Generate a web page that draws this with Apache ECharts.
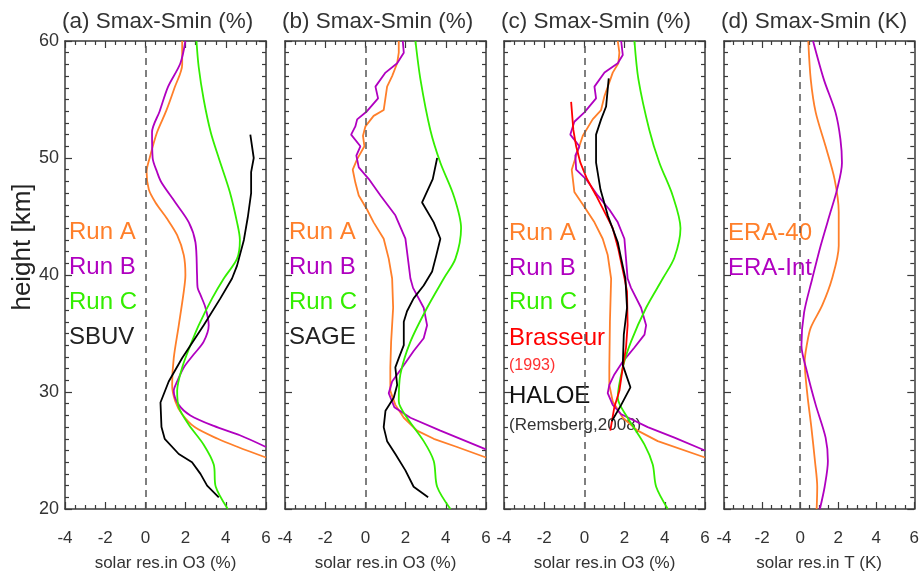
<!DOCTYPE html>
<html><head><meta charset="utf-8">
<script src="https://cdn.jsdelivr.net/npm/echarts@6/dist/echarts.min.js"></script>
<style>html,body{margin:0;padding:0;background:#fff}#c{width:922px;height:577px}</style>
</head><body><div id="c"></div>
<script>
// ---- data: [height (km), value] ----
const a_runA = [[60,1.83],[58,1.83],[56,1.45],[54,1.03],[52.2,0.58],[50,0.21],[48.8,0.06],[47.3,0.17],[46.2,0.5],[44.8,1.08],[43.4,1.58],[41.7,1.91],[40,1.99],[38.6,1.91],[35.7,1.66],[32.9,1.41],[30.6,1.33],[29.2,1.49],[28.1,1.83],[27,2.45],[26,3.6],[25.3,4.6],[24.4,6.0]];
const a_runB = [[60,1.99],[58.1,1.74],[56.1,1.13],[54,0.71],[52.2,0.33],[50,0.36],[48.8,0.58],[47.9,0.8],[46.2,1.49],[44.5,2.16],[42.8,2.49],[40,2.57],[38.9,2.6],[38.3,2.74],[37.2,2.99],[35.7,3.15],[34.3,2.9],[33.2,2.4],[32.1,1.91],[30.9,1.58],[30.1,1.41],[28.9,1.66],[28,2.24],[27.1,3.4],[26.3,4.7],[25.3,6.0]];
const a_runC = [[60,2.54],[57.8,2.65],[55,2.9],[52.2,3.25],[50,3.65],[47.1,4.2],[44.5,4.56],[43,4.7],[41.4,4.56],[39.7,3.9],[38,3.32],[35.7,2.65],[34,2.24],[32.1,1.83],[30.1,1.58],[28.7,1.66],[27.2,2.16],[25.5,2.9],[23.8,3.4],[21.9,3.5],[20,4.1]];
const a_sbuv = [[52,5.22],[50,5.39],[48.8,5.26],[47,5.26],[45,5.1],[43,4.9],[41.7,4.7],[40.8,4.56],[39.7,4.31],[38,3.73],[35.7,2.9],[32.9,1.83],[30.9,1.16],[29.1,0.75],[27,0.8],[26,0.96],[24.7,1.66],[24,2.32],[23,2.74],[22,3.07],[21,3.65]];

const b_runA = [[60,1.66],[59,1.66],[58.1,1.58],[57,1.33],[56.1,1.08],[54.1,0.91],[53.6,0.41],[52.7,0.0],[51.9,-0.12],[51,-0.05],[49.9,-0.41],[49,-0.63],[47.9,-0.5],[46.8,-0.33],[45.6,0.08],[44.5,0.41],[43.1,0.91],[41.4,1.16],[39.7,1.33],[37.2,1.38],[34.3,1.28],[32.1,1.24],[30.1,1.24],[28.9,1.49],[27.8,1.91],[26.7,2.57],[26,3.4],[25.3,4.56],[24.4,6.0]];
const b_runB = [[60,1.86],[59,1.91],[58.1,1.58],[57.3,1.0],[56.1,0.5],[55.1,0.63],[54,0.08],[53.3,-0.41],[52.7,-0.5],[52,-0.71],[51,-0.25],[50.2,-0.45],[49.2,-0.33],[48.2,0.17],[46.8,0.75],[45.1,1.49],[43.1,1.99],[39.7,2.24],[38.9,2.37],[37.2,2.9],[35.7,3.07],[34.6,2.9],[33.5,2.4],[32.1,1.83],[30.9,1.33],[29.9,1.16],[28.7,1.44],[27.8,2.24],[26.7,3.73],[25.1,6.0]];
const b_runC = [[60,2.49],[56.7,2.74],[52.4,3.23],[49.6,3.73],[46.8,4.39],[44,4.76],[41.4,4.48],[39.7,3.9],[37.2,3.07],[34.3,2.24],[31.5,1.74],[29.2,1.66],[27.8,2.07],[25.8,2.9],[24.1,3.4],[21.9,3.57],[20,4.23]];
const b_sage = [[50,3.57],[48.2,3.35],[46.2,2.82],[44.5,3.4],[43.1,3.73],[41.7,3.53],[40.3,3.32],[39.1,2.9],[38,2.4],[36.9,2.07],[36,1.91],[34,1.91],[32.9,1.66],[32.1,1.49],[30.6,1.58],[29.5,1.41],[28.4,1.0],[27,0.91],[25.8,1.08],[24.7,1.49],[23.3,1.99],[21.9,2.4],[21,3.12]];

const c_runA = [[60,1.66],[59,1.74],[58.1,1.69],[57.3,1.41],[55.3,1.0],[54.1,0.83],[53.3,0.41],[51.9,-0.08],[50.2,-0.41],[49,-0.63],[47.1,-0.5],[45.9,-0.03],[44.5,0.5],[43.1,0.91],[41.7,1.16],[39.7,1.33],[36,1.27],[32.1,1.24],[30.6,1.24],[29.2,1.41],[27.8,1.91],[26.7,2.65],[25.8,3.65],[24.4,6.0]];
const c_runB = [[60,1.83],[58.8,1.91],[58.1,1.66],[57.3,1.0],[56.1,0.5],[55.1,0.58],[53.9,0.0],[53.1,-0.5],[52,-0.7],[51,-0.25],[50.2,-0.45],[49,-0.41],[48.2,0.08],[46.8,0.66],[45.6,1.24],[44.5,1.66],[43.1,1.99],[41.4,2.07],[39.7,2.15],[38.9,2.32],[37.2,2.82],[35.7,3.07],[34.9,2.99],[33.8,2.49],[32.6,1.91],[31.5,1.49],[30.6,1.24],[29.9,1.16],[28.9,1.41],[28.1,1.83],[27,3.15],[26.1,4.48],[25,6.0]];
const c_runC = [[60,2.49],[56.7,2.69],[52.4,3.23],[49.6,3.73],[46.8,4.39],[44,4.78],[41.5,4.48],[39.7,3.9],[37.2,3.07],[34.3,2.32],[32.1,1.91],[29.5,1.66],[27.8,2.15],[25.5,2.99],[23.8,3.4],[21.9,3.57],[20,4.15]];
const c_brasseur = [[54.8,-0.66],[52.4,-0.55],[51,-0.41],[49.6,-0.2],[48.2,0.13],[46.8,0.58],[45.4,1.0],[44,1.41],[42.2,1.69],[39.7,2.0],[38.6,2.12],[35.7,2.15],[33.8,2.07],[32.1,1.91],[30.1,1.74],[28.7,1.49],[26.7,1.29]];
const c_haloe = [[56.8,1.21],[54.4,1.08],[53.3,0.83],[52,0.58],[49.6,0.58],[47.3,0.8],[45.1,1.16],[42.8,1.66],[41.4,1.83],[39.7,2.04],[37.2,2.12],[34.9,1.96],[32.3,1.91],[30.4,2.29],[28.9,1.83],[27.5,1.36]];

const d_era40 = [[60,0.43],[56.7,0.56],[53.9,0.82],[51,1.34],[48.2,1.81],[45.4,2.03],[42.5,2.03],[39.7,1.68],[37.4,1.16],[35.5,0.56],[34,0.35],[32.6,0.24],[29.8,0.38],[27,0.59],[24.1,0.78],[21.9,0.9],[20,0.87]];
const d_eraInt = [[60,0.68],[56.7,1.25],[53.9,1.86],[51.6,2.12],[49.6,2.2],[47.3,1.94],[45.4,1.6],[42.5,1.08],[39.7,0.64],[36.8,0.21],[34,0.07],[31.8,0.35],[28.9,0.82],[26.1,1.34],[24.1,1.46],[21.9,1.29],[20,1.04]];

const panelTitles = ['(a) Smax-Smin (%)','(b) Smax-Smin (%)','(c) Smax-Smin (%)','(d) Smax-Smin (K)'];
const xAxisNames = ['solar res.in O3 (%)','solar res.in O3 (%)','solar res.in O3 (%)','solar res.in T (K)'];
const yAxisName = 'height [km]';
const xTicks = [-4, 6, 2];   // min, max, step
const yTicks = [20, 60, 10]; // min, max, step
const legendA = ['Run A','Run B','Run C','SBUV'];
const legendB = ['Run A','Run B','Run C','SAGE'];
const legendC = ['Run A','Run B','Run C','Brasseur','(1993)','HALOE','(Remsberg,2008)'];
const legendD = ['ERA-40','ERA-Int'];

// ---- styling ----
const FONT = "'Liberation Sans', Arial, Helvetica, sans-serif";
const ORANGE = '#ff7f2a', PURPLE = '#b000c0', GREEN = '#33ee00', RED = '#ff0000', BLACK = '#000000';
const AX = '#3a3a3a';
const panels = [
  {left: 65, width: 201},
  {left: 285, width: 201},
  {left: 504, width: 201},
  {left: 724, width: 192}
];
const TOP = 41, H = 471;

const grids = panels.map(p => ({left: p.left, top: TOP, width: p.width, height: H, containLabel: false}));
const xAxes = [], yAxes = [];
panels.forEach((p, i) => {
  const common = {
    type: 'value', gridIndex: i, min: xTicks[0], max: xTicks[1], interval: xTicks[2],
    axisLine: {show: true, onZero: false, lineStyle: {color: AX, width: 1.5}},
    axisTick: {show: true, inside: true, length: 7, lineStyle: {color: AX, width: 1.2}},
    minorTick: {show: true, splitNumber: 4, length: 4, lineStyle: {color: AX, width: 1.2}},
    splitLine: {show: false}, minorSplitLine: {show: false}
  };
  xAxes.push(Object.assign({}, common, {
    position: 'bottom',
    axisLabel: {show: true, margin: 21, fontSize: 17, color: '#333', fontFamily: FONT, showMinLabel: true, showMaxLabel: true, hideOverlap: false},
    name: xAxisNames[i], nameLocation: 'middle', nameGap: 46,
    nameTextStyle: {fontSize: 17, color: '#333', fontFamily: FONT}
  }));
  xAxes.push(Object.assign({}, common, {position: 'top', axisLabel: {show: false}}));
  const ycommon = {
    type: 'value', gridIndex: i, min: yTicks[0], max: yTicks[1], interval: yTicks[2],
    axisLine: {show: true, onZero: false, lineStyle: {color: AX, width: 1.5}},
    axisTick: {show: true, inside: true, length: 7, lineStyle: {color: AX, width: 1.2}},
    minorTick: {show: true, splitNumber: 10, length: 4, lineStyle: {color: AX, width: 1.2}},
    splitLine: {show: false}, minorSplitLine: {show: false}
  };
  yAxes.push(Object.assign({}, ycommon, {
    position: 'left',
    axisLabel: {show: i === 0, margin: 6, fontSize: 18, color: '#333', fontFamily: FONT, showMinLabel: true, showMaxLabel: true}
  }));
  yAxes.push(Object.assign({}, ycommon, {position: 'right', axisLabel: {show: false}}));
});

function line(i, arr, color, smooth, extra) {
  return Object.assign({
    type: 'line', xAxisIndex: 2 * i, yAxisIndex: 2 * i,
    data: arr.map(d => [d[1], d[0]]),
    showSymbol: false, symbol: 'none', smooth: smooth ? 0.3 : false,
    lineStyle: {color: color, width: 1.8}, itemStyle: {color: color},
    silent: true, animation: false, clip: true
  }, extra || {});
}
const zeroMark = {markLine: {silent: true, symbol: 'none', animation: false, label: {show: false},
  lineStyle: {color: '#555', type: [7, 5], width: 1.5}, data: [{xAxis: 0}]}};

const series = [
  line(0, a_runA, ORANGE, true, zeroMark),
  line(0, a_runB, PURPLE, true),
  line(0, a_runC, GREEN, true),
  line(0, a_sbuv, BLACK, false),
  line(1, b_runA, ORANGE, false, zeroMark),
  line(1, b_runB, PURPLE, false),
  line(1, b_runC, GREEN, true),
  line(1, b_sage, BLACK, false),
  line(2, c_runA, ORANGE, false, zeroMark),
  line(2, c_runB, PURPLE, false),
  line(2, c_runC, GREEN, true),
  line(2, c_brasseur, RED, false),
  line(2, c_haloe, BLACK, false),
  line(3, d_era40, ORANGE, true, zeroMark),
  line(3, d_eraInt, PURPLE, true)
];

// ---- text graphics ----
const graphics = [];
function txt(x, y, s, size, color, extra) {
  graphics.push(Object.assign({type: 'text', x: x, y: y, silent: true,
    style: {text: s, fontSize: size, fill: color, fontFamily: FONT, align: 'left', verticalAlign: 'middle'}}, extra || {}));
}
panels.forEach((p, i) => txt(p.left - 3, 22, panelTitles[i], 22.5, '#333'));
graphics.push({type: 'text', x: 23, y: 247, rotation: Math.PI / 2, silent: true,
  style: {text: yAxisName, fontSize: 26, fill: '#222', fontFamily: FONT, align: 'center', verticalAlign: 'middle'}});
const legYs = [232, 267.5, 302, 337];
const legColsAB = [ORANGE, PURPLE, GREEN, '#222'];
legendA.forEach((s, k) => txt(69, legYs[k], s, 24, legColsAB[k]));
legendB.forEach((s, k) => txt(289, legYs[k], s, 24, legColsAB[k]));
const legCYs = [233, 268, 302, 338, 366, 396.5, 425];
const legCSz = [24, 24, 24, 24, 16, 24, 17];
const legCCol = [ORANGE, PURPLE, GREEN, RED, '#ff3030', '#111', '#333'];
legendC.forEach((s, k) => txt(509, legCYs[k], s, legCSz[k], legCCol[k]));
const legDYs = [233, 268];
legendD.forEach((s, k) => txt(728, legDYs[k], s, 24, [ORANGE, PURPLE][k]));

const chart = echarts.init(document.getElementById('c'), null, {renderer: 'canvas'});
chart.setOption({
  animation: false,
  backgroundColor: '#fff',
  textStyle: {fontFamily: FONT},
  grid: grids, xAxis: xAxes, yAxis: yAxes, series: series, graphic: graphics
});
</script></body></html>
